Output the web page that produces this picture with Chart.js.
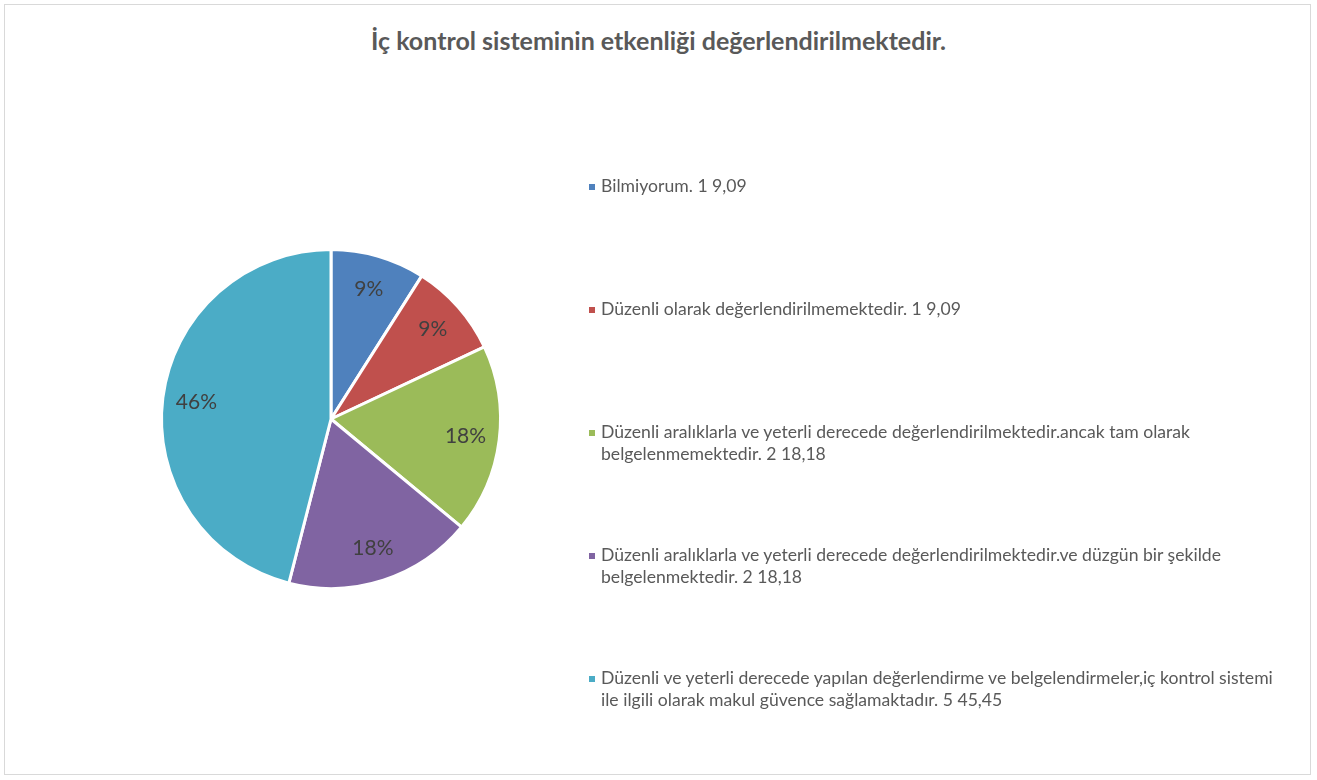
<!DOCTYPE html>
<html>
<head>
<meta charset="utf-8">
<script src="https://cdn.jsdelivr.net/npm/chart.js@4.4.0/dist/chart.umd.min.js"></script>
<style>
  html, body { margin: 0; padding: 0; background: #fff; }
  #frame {
    position: absolute; left: 4px; top: 4px; width: 1307px; height: 771px;
    border: 1px solid #d9d9d9; box-sizing: border-box;
  }
  #title {
    position: absolute; left: 0; top: 25px; width: 1317px; text-align: center;
    font: bold 25px Lato, sans-serif; color: #595959;
  }
  #chart { position: absolute; left: 0; top: 0; }
  #legend { position: absolute; left: 589px; top: 175px; }
  .item { position: relative; height: 123px; padding-left: 12px;
    font: 17.6px Lato, sans-serif; color: #595959; line-height: 22px; }
  .item i { position: absolute; left: 0; top: 9px; width: 6px; height: 6px; }
</style>
</head>
<body>
<div id="frame"></div>
<div id="title">İç kontrol sisteminin etkenliği değerlendirilmektedir.</div>
<canvas id="chart" width="1317" height="780"></canvas>
<div id="legend"></div>
<script>
// Answer categories (legend text, broken into lines as shown)
const categories = [
  ['Bilmiyorum. 1 9,09'],
  ['Düzenli olarak değerlendirilmemektedir. 1 9,09'],
  ['Düzenli aralıklarla ve yeterli derecede değerlendirilmektedir.ancak tam olarak', 'belgelenmemektedir. 2 18,18'],
  ['Düzenli aralıklarla ve yeterli derecede değerlendirilmektedir.ve düzgün bir şekilde', 'belgelenmektedir. 2 18,18'],
  ['Düzenli ve yeterli derecede yapılan değerlendirme ve belgelendirmeler,iç kontrol sistemi', 'ile ilgili olarak makul güvence sağlamaktadır. 5 45,45']
];
// Share of answers, percent
const shares = [9, 9, 18, 18, 46];
const colors = ['#4F81BD', '#C0504D', '#9BBB59', '#8064A2', '#4BACC6'];

// percentage labels inside each slice
const sliceLabels = {
  id: 'sliceLabels',
  afterDatasetsDraw(chart) {
    const ctx = chart.ctx;
    const meta = chart.getDatasetMeta(0);
    const total = shares.reduce((a, b) => a + b, 0);
    ctx.save();
    ctx.font = '21px Lato, sans-serif';
    ctx.fillStyle = '#404040';
    ctx.textAlign = 'center';
    ctx.textBaseline = 'middle';
    meta.data.forEach((arc, i) => {
      const mid = (arc.startAngle + arc.endAngle) / 2;
      const r = arc.outerRadius * 0.8;
      const pct = Math.round(shares[i] / total * 100) + '%';
      ctx.fillText(pct, arc.x + Math.cos(mid) * r, arc.y + Math.sin(mid) * r);
    });
    ctx.restore();
  }
};

new Chart(document.getElementById('chart'), {
  type: 'pie',
  data: {
    labels: categories,
    datasets: [{
      data: shares,
      backgroundColor: colors,
      borderColor: '#ffffff',
      borderWidth: 3
    }]
  },
  options: {
    responsive: false,
    animation: false,
    layout: { padding: { left: 160, top: 248, right: 815, bottom: 190 } },
    plugins: {
      legend: { display: false },
      tooltip: { enabled: false }
    }
  },
  plugins: [sliceLabels]
});

// legend beside the pie
const legend = document.getElementById('legend');
categories.forEach((lines, i) => {
  const div = document.createElement('div');
  div.className = 'item';
  div.innerHTML = '<i style="background:' + colors[i] + '"></i>' + lines.join('<br>');
  legend.appendChild(div);
});
</script>
</body>
</html>
